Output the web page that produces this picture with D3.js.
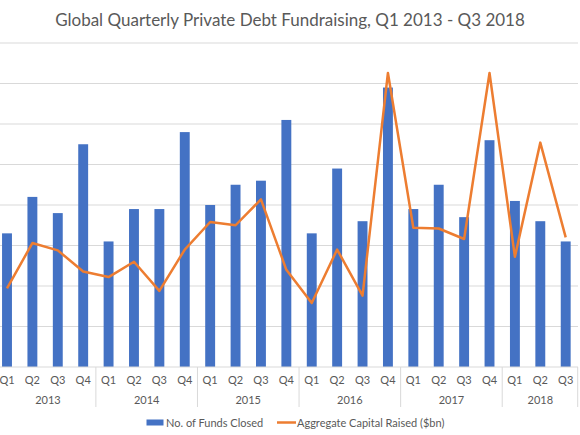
<!DOCTYPE html>
<html><head><meta charset="utf-8">
<script src="https://cdn.jsdelivr.net/npm/d3@7"></script>
<style>html,body{margin:0;padding:0;background:#fff;}svg{display:block;font-family:Lato,"Open Sans",sans-serif;}</style>
</head><body>
<script>
const years = ["2013","2014","2015","2016","2017","2018"];
const quarters = ["Q1","Q2","Q3","Q4","Q1","Q2","Q3","Q4","Q1","Q2","Q3","Q4","Q1","Q2","Q3","Q4","Q1","Q2","Q3","Q4","Q1","Q2","Q3"];
const yearOfPeriod = ["2013","2013","2013","2013","2014","2014","2014","2014","2015","2015","2015","2015","2016","2016","2016","2016","2017","2017","2017","2017","2018","2018","2018"];
const fundsClosed = [33,42,38,55,31,39,39,58,40,45,46,61,33,49,36,69,39,45,37,56,41,36,31];
const capitalRaised = [9.7,15.3,14.4,11.8,11.1,13.0,9.4,14.5,17.9,17.5,20.7,12.0,7.9,14.5,8.8,36.3,17.2,17.1,15.8,36.3,13.6,27.7,16.0];
const fundTicks = [0,10,20,30,40,50,60,70,80];
const title = "Global Quarterly Private Debt Fundraising, Q1 2013 - Q3 2018";
const seriesNames = ["No. of Funds Closed","Aggregate Capital Raised ($bn)"];

const W = 580, H = 435;
const svg = d3.select("body").append("svg").attr("width", W).attr("height", H);
const ids = quarters.map((q,i)=>i);
const x = d3.scaleBand().domain(ids).range([-5.7, 578.4]).paddingInner(0.61).paddingOuter(0.305);
const y = d3.scaleLinear().domain([0,80]).range([367,43]);
const y2 = d3.scaleLinear().domain([0,40]).range([367,43]);
const grey = "#595959";

svg.append("text").attr("x", 290).attr("y", 26).attr("text-anchor","middle")
  .attr("font-size", 17).attr("fill", grey).text(title);

// gridlines
svg.append("g").selectAll("line").data(fundTicks.slice(1)).join("line")
  .attr("x1", 0).attr("x2", 578).attr("y1", d=>y(d)).attr("y2", d=>y(d))
  .attr("stroke", "#d9d9d9").attr("stroke-width", 1);

// bars
svg.append("g").selectAll("rect").data(fundsClosed).join("rect")
  .attr("x", (d,i)=>x(i)).attr("width", x.bandwidth())
  .attr("y", d=>y(d)).attr("height", d=>y(0)-y(d))
  .attr("fill", "#4472C4");

// line
const line = d3.line().x((d,i)=>x(i)+x.bandwidth()/2).y(d=>y2(d));
svg.append("path").datum(capitalRaised).attr("d", line)
  .attr("fill","none").attr("stroke","#ED7D31").attr("stroke-width",2.5).attr("stroke-linejoin","round");

// axis line
svg.append("line").attr("x1",0).attr("x2",578).attr("y1",y(0)).attr("y2",y(0)).attr("stroke","#d9d9d9");

// quarter labels
svg.append("g").selectAll("text").data(quarters).join("text")
  .attr("x",(d,i)=>x(i)+x.bandwidth()/2).attr("y",384)
  .attr("text-anchor","middle").attr("font-size",11).attr("fill",grey).text(d=>d);

// year groups
const step = x.step();
const yearGroups = years.map(yr=>{
  const idx = ids.filter(i=>yearOfPeriod[i]===yr);
  return {yr, start: x(idx[0]) - (step - x.bandwidth())/2, end: x(idx[idx.length-1]) + x.bandwidth() + (step - x.bandwidth())/2};
});
svg.append("g").selectAll("line").data(yearGroups).join("line")
  .attr("x1",d=>Math.min(d.end,577.7)).attr("x2",d=>Math.min(d.end,577.7)).attr("y1",367).attr("y2",407)
  .attr("stroke","#d9d9d9");
svg.append("g").selectAll("text").data(yearGroups).join("text")
  .attr("x",d=>(Math.max(d.start,0)+d.end)/2).attr("y",404)
  .attr("text-anchor","middle").attr("font-size",11).attr("fill",grey).text(d=>d.yr);

// legend
const lg = svg.append("g");
lg.append("rect").attr("x",146.5).attr("y",419.5).attr("width",17).attr("height",6).attr("fill","#4472C4");
lg.append("text").attr("x",166).attr("y",426.5).attr("font-size",11).attr("fill",grey).text(seriesNames[0]);
lg.append("line").attr("x1",277).attr("x2",296).attr("y1",422.5).attr("y2",422.5).attr("stroke","#ED7D31").attr("stroke-width",2.5);
lg.append("text").attr("x",297).attr("y",426.5).attr("font-size",11).attr("fill",grey).text(seriesNames[1]);
</script>
</body></html>
